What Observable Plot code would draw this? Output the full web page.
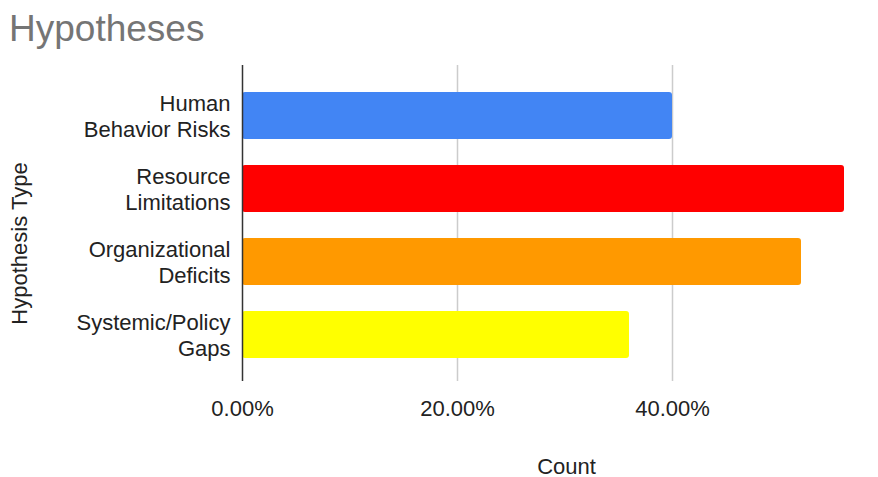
<!DOCTYPE html>
<html>
<head>
<meta charset="utf-8">
<script src="https://cdn.jsdelivr.net/npm/d3@7"></script>
<script src="https://cdn.jsdelivr.net/npm/@observablehq/plot@0.6"></script>
<style>
  body { margin: 0; background: #fff; font-family: "Liberation Sans", Arial, sans-serif; }
  #title {
    box-sizing: border-box; height: 50px; padding: 10px 0 0 9px;
    font-size: 37px; line-height: 37px; color: #757575;
  }
</style>
</head>
<body>
<div id="title">Hypotheses</div>
<div id="chart"></div>
<script>
// Share of hypotheses by type
const categories = [
  "Human\nBehavior Risks",
  "Resource\nLimitations",
  "Organizational\nDeficits",
  "Systemic/Policy\nGaps"
];
const shares = [0.40, 0.56, 0.52, 0.36];
const colors = ["#4285f4", "#ff0000", "#ff9900", "#ffff00"];
const xTicks = [0, 0.2, 0.4];
const xTitle = "Count";
const yTitle = "Hypothesis Type";

const data = categories.map((c, i) => ({ category: c, share: shares[i], color: colors[i] }));

const chart = Plot.plot({
  width: 878,
  height: 427,
  marginTop: 15,
  marginBottom: 96,
  marginLeft: 242,
  marginRight: 0,
  style: { fontFamily: "'Liberation Sans', Arial, sans-serif", fontSize: "22px", color: "#222", background: "#fff" },
  x: { domain: [0, 0.6], range: [242, 887] },
  y: { domain: categories, paddingInner: 0.356, paddingOuter: 0.34, align: 0.55 },
  color: { type: "identity" },
  marks: [
    Plot.gridX(xTicks.slice(1), { stroke: "#ccc", strokeOpacity: 1, strokeWidth: 1.5 }),
    Plot.barX(data, { x: "share", y: "category", fill: "color", rx: 3 }),
    Plot.ruleX([0], { stroke: "#333", strokeWidth: 1.5 }),
    Plot.axisX(xTicks, {
      tickSize: 0, tickPadding: 19, tickFormat: d3.format(".2%"),
      label: null, fontSize: 22, fill: "#222"
    }),
    Plot.axisY({
      tickSize: 0, tickPadding: 12, label: null, fontSize: 22,
      lineHeight: 1.18, fill: "#222"
    }),
    Plot.text([xTitle], { frameAnchor: "bottom", dx: 6, dy: 92, fontSize: 22, fill: "#222" }),
    Plot.text([yTitle], {
      frameAnchor: "left", textAnchor: "middle", rotate: -90,
      dx: -223, dy: 20, fontSize: 22, fill: "#222"
    })
  ]
});
document.getElementById("chart").appendChild(chart);
</script>
</body>
</html>
